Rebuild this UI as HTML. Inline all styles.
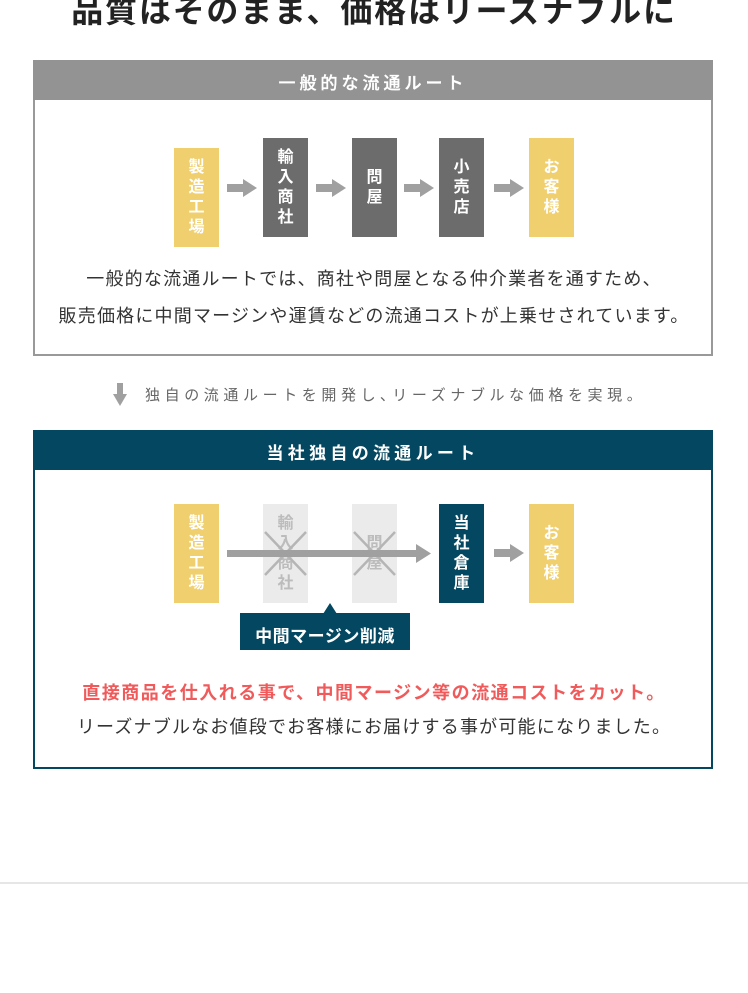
<!DOCTYPE html>
<html><head><meta charset="utf-8"><style>
body{margin:0;width:748px;height:993px;background:#fff;position:relative;overflow:hidden;font-family:"Liberation Sans","Noto Sans CJK JP",sans-serif;}
.a{position:absolute;}
.t{position:absolute;white-space:nowrap;}
.n{position:absolute;width:45px;height:99px;display:flex;align-items:center;justify-content:center;color:#fff;font-weight:bold;font-size:16px;line-height:20px;text-align:center;}
.y{background:#f0cf6e;}.g{background:#6c6c6c;}.b{background:#034760;}.l{background:#ebebeb;color:#bcbcbc;}
</style></head><body>
<div class="t" style="left:0;width:748px;top:-14px;text-align:center;font-size:32px;font-weight:bold;letter-spacing:1.8px;color:#222;">品質はそのまま、価格はリーズナブルに</div>

<div class="a" style="left:33px;top:60px;width:676px;height:294px;border:2px solid #999;border-top:none;"></div>
<div class="a" style="left:33px;top:60px;width:680px;height:40px;background:#939393;"></div>
<div class="t" style="left:33px;width:680px;top:69px;text-align:center;color:#fff;font-size:17px;letter-spacing:4px;font-weight:500;-webkit-text-stroke:0.3px #fff;">一般的な流通ルート</div>

<div class="n y" style="left:174px;top:148px;">製<br>造<br>工<br>場</div>
<div class="n g" style="left:263px;top:138px;">輸<br>入<br>商<br>社</div>
<div class="n g" style="left:352px;top:138px;">問<br>屋</div>
<div class="n g" style="left:439px;top:138px;">小<br>売<br>店</div>
<div class="n y" style="left:529px;top:138px;">お<br>客<br>様</div>
<svg class="a" style="left:0;top:0" width="748" height="993">
<g fill="#a0a0a0">
<rect x="227" y="184" width="16" height="8"/><polygon points="243,179 257,188 243,197"/>
<rect x="316" y="184" width="16" height="8"/><polygon points="332,179 346,188 332,197"/>
<rect x="404" y="184" width="16" height="8"/><polygon points="420,179 434,188 420,197"/>
<rect x="494" y="184" width="16" height="8"/><polygon points="510,179 524,188 510,197"/>
<rect x="117" y="383" width="6" height="12"/><polygon points="113,394 127,394 120,406"/>
</g>
</svg>
<div class="t" style="left:0;width:748px;top:265px;text-align:center;font-size:18px;letter-spacing:1.2px;color:#333;">一般的な流通ルートでは、商社や問屋となる仲介業者を通すため、</div>
<div class="t" style="left:0;width:748px;top:302px;text-align:center;font-size:18px;letter-spacing:1.2px;color:#333;">販売価格に中間マージンや運賃などの流通コストが上乗せされています。</div>
<div class="t" style="left:145px;top:384px;font-size:15px;color:#666;letter-spacing:4.6px;">独自の流通ルートを開発し､リーズナブルな価格を実現。</div>

<div class="a" style="left:33px;top:430px;width:676px;height:337px;border:2px solid #034760;border-top:none;"></div>
<div class="a" style="left:33px;top:430px;width:680px;height:40px;background:#034760;"></div>
<div class="t" style="left:33px;width:680px;top:439px;text-align:center;color:#fff;font-size:17px;font-weight:bold;letter-spacing:4.3px;">当社独自の流通ルート</div>

<div class="n y" style="left:174px;top:504px;">製<br>造<br>工<br>場</div>
<div class="n l" style="left:263px;top:504px;">輸<br>入<br>商<br>社</div>
<div class="n l" style="left:352px;top:504px;">問<br>屋</div>
<div class="n b" style="left:439px;top:504px;">当<br>社<br>倉<br>庫</div>
<div class="n y" style="left:529px;top:504px;">お<br>客<br>様</div>
<svg class="a" style="left:0;top:0" width="748" height="993">
<g stroke="#b5b5b5" stroke-width="2.5">
<line x1="265" y1="532" x2="306" y2="575"/><line x1="306" y1="532" x2="265" y2="575"/>
<line x1="354" y1="532" x2="395" y2="575"/><line x1="395" y1="532" x2="354" y2="575"/>
</g>
<g fill="#a0a0a0">
<rect x="227" y="550" width="190" height="7"/><polygon points="416,544 431,553.5 416,563"/>
<rect x="494" y="549" width="16" height="8"/><polygon points="510,544 524,553 510,562"/>
</g>
<rect x="240" y="613" width="170" height="37" fill="#034760"/>
<polygon points="323,614 330,603 337,614" fill="#034760"/>
</svg>
<div class="t" style="left:240px;width:170px;top:622px;text-align:center;color:#fff;font-weight:bold;font-size:17px;letter-spacing:0.5px;">中間マージン削減</div>
<div class="t" style="left:0;width:748px;top:679px;text-align:center;font-size:18px;font-weight:bold;letter-spacing:1.5px;color:#f05a5a;">直接商品を仕入れる事で、中間マージン等の流通コストをカット。</div>
<div class="t" style="left:0;width:748px;top:713px;text-align:center;font-size:18px;letter-spacing:1.2px;color:#333;">リーズナブルなお値段でお客様にお届けする事が可能になりました。</div>

<div class="a" style="left:0;top:882px;width:748px;height:2px;background:#e6e6e6;"></div>
</body></html>
